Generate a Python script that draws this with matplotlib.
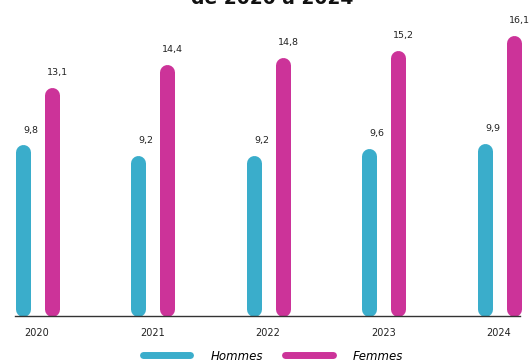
import matplotlib.pyplot as plt
from matplotlib.lines import Line2D

# Données
annees = ['2020', '2021', '2022', '2023', '2024']
hommes = [9.8, 9.2, 9.2, 9.6, 9.9]
femmes = [13.1, 14.4, 14.8, 15.2, 16.1]
labels_hommes = ['9,8', '9,2', '9,2', '9,6', '9,9']
labels_femmes = ['13,1', '14,4', '14,8', '15,2', '16,1']

couleur_h = '#3aadcb'
couleur_f = '#cc3399'

W, H = 532, 363
fig = plt.figure(figsize=(W / 100, H / 100), dpi=100)
ax = fig.add_axes([15 / W, 47 / H, 505 / W, 316 / H])

ymax = 316 / 17.45
ax.set_ylim(0, ymax)
ax.set_xlim(-22 / 115.5, 483 / 115.5)

lw_px = 15
lw_pt = lw_px * 72 / 100
r = (lw_px / 2) / 17.45  # rayon du bout arrondi en unités de données
d = 14.5 / 115.5

for i in range(len(annees)):
    for x, v, lab, c, dx in [(i - d, hommes[i], labels_hommes[i], couleur_h, 0.07),
                             (i + d, femmes[i], labels_femmes[i], couleur_f, 0.05)]:
        ax.plot([x, x], [r, v - r], color=c, lw=lw_pt, solid_capstyle='round',
                clip_on=False)
        ax.text(x + dx, v + 0.85, lab, ha='center', va='center', fontsize=6.8,
                color='#222222', clip_on=False)

ax.set_xticks(range(len(annees)))
ax.set_xticklabels(annees, fontsize=7, color='#222222')
ax.tick_params(axis='x', length=0, pad=9)
ax.set_yticks([])
for s in ['left', 'right', 'top']:
    ax.spines[s].set_visible(False)
ax.spines['bottom'].set_color('#333333')
ax.spines['bottom'].set_linewidth(1)

# Titre (coupé en haut comme dans l'original)
fig.text(272 / W, 1 - 4 / H, 'de 2020 à 2024', ha='center', va='baseline',
         fontsize=13.5, fontweight='bold', color='#111111')

handles = [Line2D([], [], color=couleur_h, lw=5, solid_capstyle='round'),
           Line2D([], [], color=couleur_f, lw=5, solid_capstyle='round')]
fig.legend(handles, ['Hommes', 'Femmes'], loc='center', ncol=2, frameon=False,
           bbox_to_anchor=(273 / W, 1 - 356 / H), handlelength=4,
           handletextpad=1.7, columnspacing=1.9,
           prop={'style': 'italic', 'size': 8.5})

fig.savefig('out.png', dpi=100)
